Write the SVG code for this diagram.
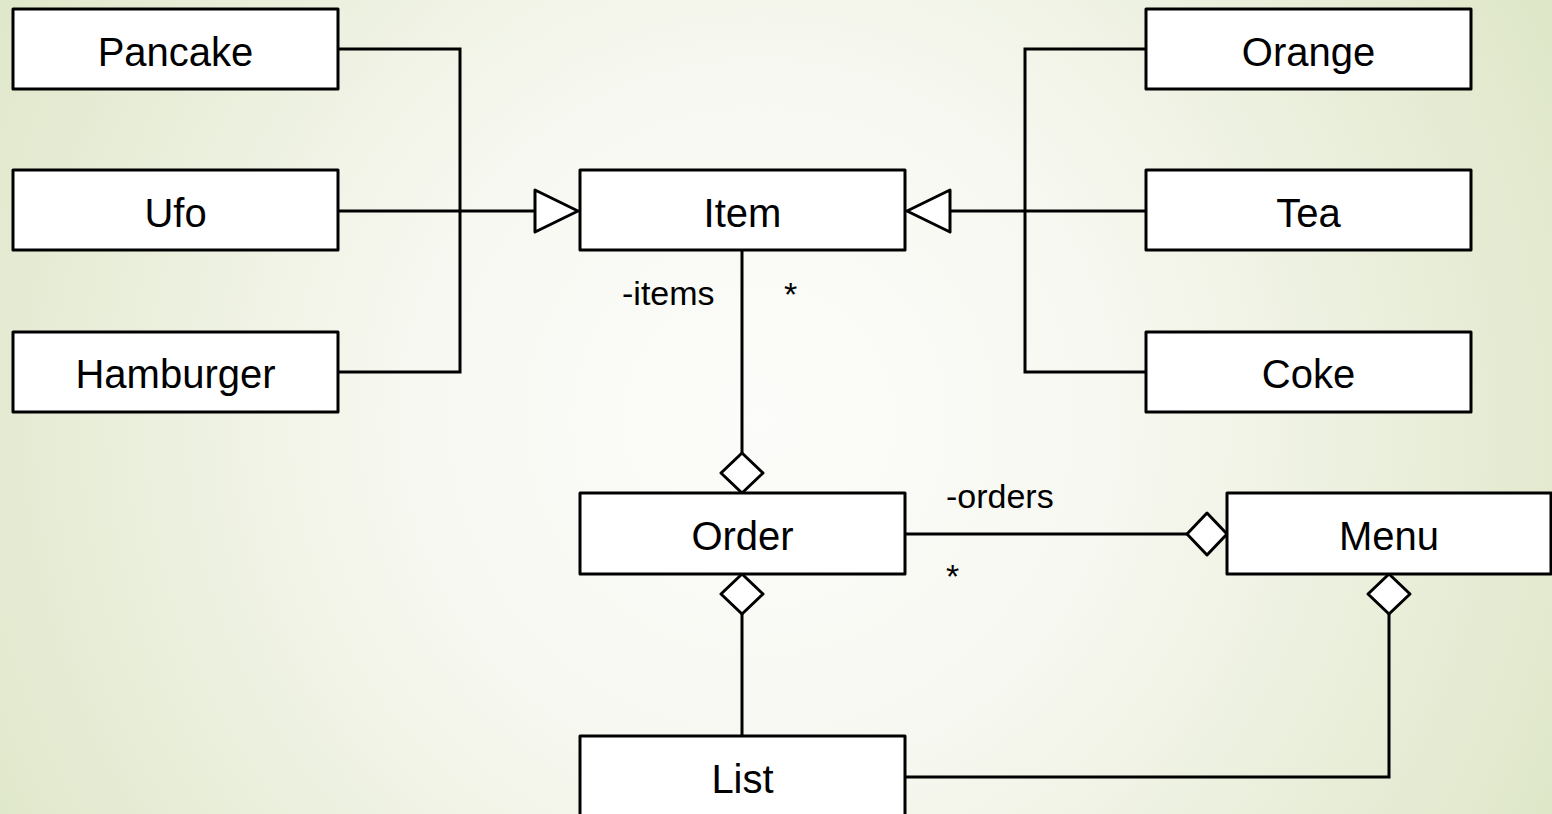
<svg xmlns="http://www.w3.org/2000/svg" width="1552" height="814" viewBox="0 0 1552 814">
  <defs>
    <radialGradient id="bg" gradientUnits="userSpaceOnUse" cx="760" cy="420" r="880">
      <stop offset="0" stop-color="#fcfcfa"/>
      <stop offset="0.4" stop-color="#f7f8f1"/>
      <stop offset="1" stop-color="#dfe7c9"/>
    </radialGradient>
  </defs>
  <style>
    .box rect { fill: #ffffff; stroke: #000000; stroke-width: 3; stroke-linejoin: round; }
    .box text { font-family: "Liberation Sans", Arial, sans-serif; font-size: 40px; fill: #000000; text-anchor: middle; }
    .lbl { font-family: "Liberation Sans", Arial, sans-serif; font-size: 34px; fill: #000000; }
    #connectors path, #connectors line { fill: none; stroke: #000000; stroke-width: 3; stroke-linejoin: miter; }
    #connectors polygon { fill: #ffffff; stroke: #000000; stroke-width: 3; stroke-linejoin: round; }
  </style>

  <rect x="0" y="0" width="1552" height="814" fill="url(#bg)"/>

  <!-- connectors: generalizations and aggregations -->
  <g id="connectors">
    <!-- food subclasses to Item -->
    <path d="M338,49 H460 V372 H338"/>
    <line x1="338" y1="211" x2="535" y2="211"/>
    <polygon points="535,190 578,211 535,232"/>
    <!-- drink subclasses to Item -->
    <path d="M1146,49 H1025 V372 H1146"/>
    <line x1="1146" y1="211" x2="950" y2="211"/>
    <polygon points="950,190 907,211 950,232"/>
    <!-- Item aggregated in Order -->
    <line x1="742" y1="250" x2="742" y2="453"/>
    <polygon points="742,453 763,473 742,493 721,473"/>
    <!-- Order aggregated in Menu -->
    <line x1="905" y1="534" x2="1187" y2="534"/>
    <polygon points="1187,534 1207,513 1227,534 1207,555"/>
    <!-- List aggregated in Order -->
    <line x1="742" y1="614" x2="742" y2="736"/>
    <polygon points="742,574 763,594 742,614 721,594"/>
    <!-- List aggregated in Menu -->
    <path d="M905,777 H1389 V614"/>
    <polygon points="1389,574 1410,594 1389,614 1368,594"/>
  </g>

  <!-- role and multiplicity labels -->
  <text class="lbl" x="622" y="305">-items</text>
  <text class="lbl" x="784" y="306">*</text>
  <text class="lbl" x="946" y="508">-orders</text>
  <text class="lbl" x="946" y="588">*</text>

  <!-- classes -->
  <g id="pancake" class="box">
    <rect x="13" y="9" width="325" height="80"/>
    <text x="175.5" y="65.5">Pancake</text>
  </g>
  <g id="ufo" class="box">
    <rect x="13" y="170" width="325" height="80"/>
    <text x="175.5" y="226.5">Ufo</text>
  </g>
  <g id="hamburger" class="box">
    <rect x="13" y="332" width="325" height="80"/>
    <text x="175.5" y="388">Hamburger</text>
  </g>
  <g id="item" class="box">
    <rect x="580" y="170" width="325" height="80"/>
    <text x="742.5" y="227">Item</text>
  </g>
  <g id="orange" class="box">
    <rect x="1146" y="9" width="325" height="80"/>
    <text x="1308.5" y="65.5">Orange</text>
  </g>
  <g id="tea" class="box">
    <rect x="1146" y="170" width="325" height="80"/>
    <text x="1308.5" y="226.5">Tea</text>
  </g>
  <g id="coke" class="box">
    <rect x="1146" y="332" width="325" height="80"/>
    <text x="1308.5" y="388">Coke</text>
  </g>
  <g id="order" class="box">
    <rect x="580" y="493" width="325" height="81"/>
    <text x="742.5" y="550">Order</text>
  </g>
  <g id="menu" class="box">
    <rect x="1227" y="493" width="324" height="81"/>
    <text x="1389" y="550">Menu</text>
  </g>
  <g id="list" class="box">
    <rect x="580" y="736" width="325" height="90"/>
    <text x="742.5" y="793">List</text>
  </g>
</svg>
